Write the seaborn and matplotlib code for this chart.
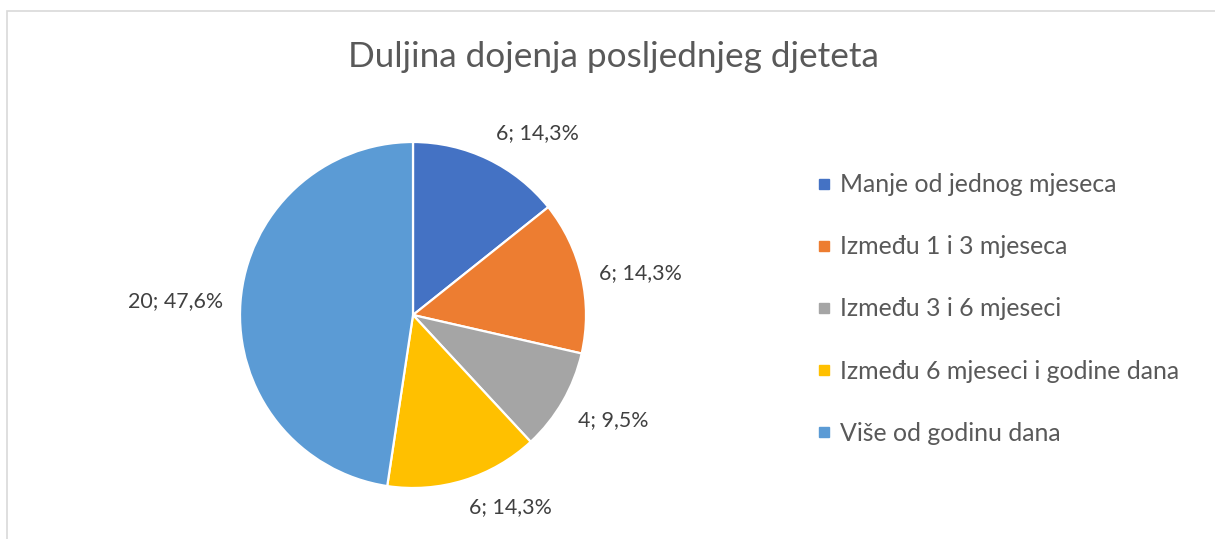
import numpy as np
import matplotlib
matplotlib.use("Agg")
import matplotlib.pyplot as plt
from matplotlib.lines import Line2D
from matplotlib.patches import Rectangle
import seaborn as sns

categories = ["Manje od jednog mjeseca", "Između 1 i 3 mjeseca", "Između 3 i 6 mjeseci",
              "Između 6 mjeseci i godine dana", "Više od godinu dana"]
counts = [6, 6, 4, 6, 20]
colors = ["#4472C4", "#ED7D31", "#A5A5A5", "#FFC000", "#5B9BD5"]
title = "Duljina dojenja posljednjeg djeteta"

sns.set_theme(style="white")
plt.rcParams["font.family"] = ["Lato", "DejaVu Sans"]

W, H = 1215, 539
fig = plt.figure(figsize=(W / 100, H / 100), dpi=100)
fig.patch.set_facecolor("white")

# chart frame (partially cropped)
fig.add_artist(Rectangle((7 / W, -0.2), 2, 1 - 11 / H + 0.2, transform=fig.transFigure,
                         fill=False, edgecolor="#D9D9D9", linewidth=1.2))

cx, cy, r = 413, 315, 173
ax = fig.add_axes([(cx - r) / W, (H - cy - r) / H, 2 * r / W, 2 * r / H])
pal = sns.color_palette(colors)
wedges, _ = ax.pie(counts, colors=pal, startangle=90, counterclock=False,
                   wedgeprops=dict(edgecolor="white", linewidth=1.6))
ax.set_xlim(-1, 1)
ax.set_ylim(-1, 1)
ax.set_aspect("equal")
ax.axis("off")

total = sum(counts)
for w, c in zip(wedges, counts):
    mid = np.deg2rad((w.theta1 + w.theta2) / 2)
    x, y = 1.1 * np.cos(mid), 1.1 * np.sin(mid)
    ha = "left" if np.cos(mid) >= 0 else "right"
    s = np.sin(mid)
    va = "bottom" if s > 0.3 else ("top" if s < -0.3 else "center")
    pct = f"{100 * c / total:.1f}".replace(".", ",")
    ax.text(x, y, f"{c}; {pct}%", ha=ha, va=va, fontsize=15.4, color="#404040")

fig.text(613 / W, 1 - 57 / H, title, ha="center", va="center", fontsize=25.3, color="#595959")

handles = [Line2D([], [], linestyle="none", marker="s", markersize=6.5,
                  markerfacecolor=col, markeredgecolor=col) for col in colors]
fig.legend(handles, categories, loc="center left", bbox_to_anchor=(819 / W, 1 - 309 / H),
           frameon=False, fontsize=17.9, labelcolor="#595959", labelspacing=1.57,
           handlelength=0.4, handletextpad=0.45, borderpad=0, borderaxespad=0)

fig.savefig("out.png", dpi=100, facecolor="white")
